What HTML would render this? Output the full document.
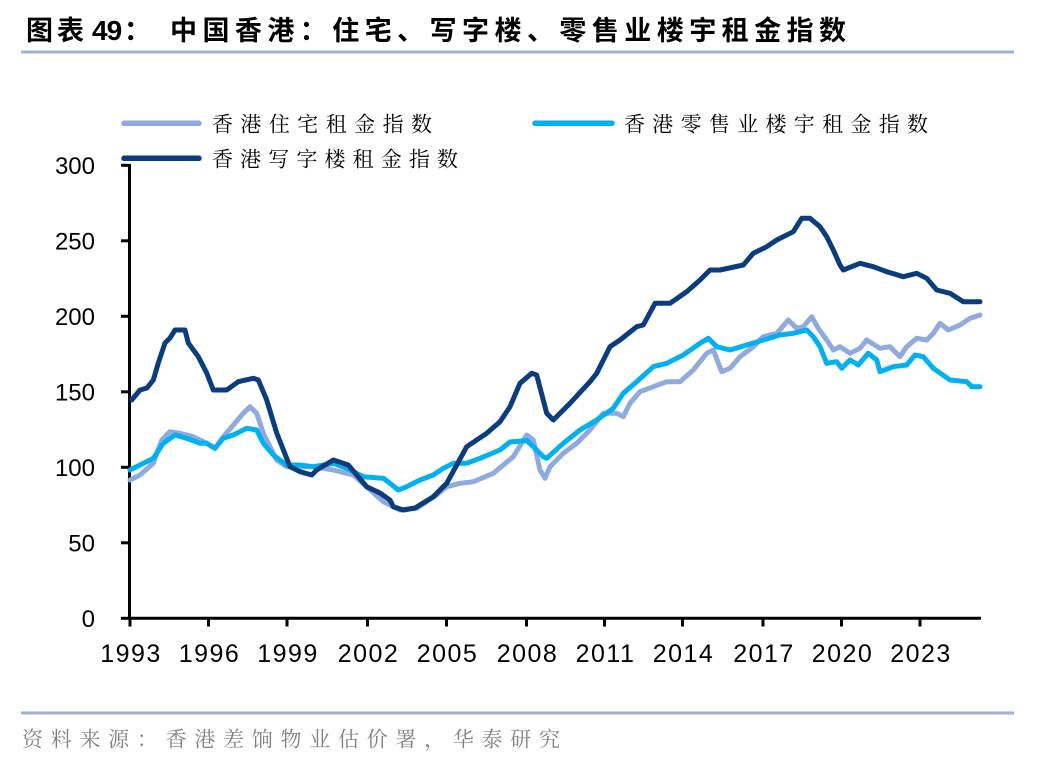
<!DOCTYPE html>
<html>
<head>
<meta charset="utf-8">
<style>
  html,body{margin:0;padding:0;background:#fff;}
  body{width:1048px;height:764px;overflow:hidden;}
  svg{display:block;}
</style>
</head>
<body>
<svg width="1048" height="764" viewBox="0 0 1048 764" xmlns="http://www.w3.org/2000/svg">
  <!-- Title -->
  <text x="26" y="40" font-family="'Noto Sans CJK SC', sans-serif" font-weight="700" font-size="27" fill="#000" letter-spacing="4">图表</text>
  <text x="92" y="40" font-family="'Liberation Sans', sans-serif" font-weight="700" font-size="28" fill="#000" letter-spacing="-1">49</text>
  <text x="124" y="40" font-family="'Noto Sans CJK SC', sans-serif" font-weight="700" font-size="27" fill="#000">：</text>
  <text x="170" y="40" font-family="'Liberation Sans','Noto Sans CJK SC', sans-serif" font-weight="700" font-size="27" fill="#000" textLength="676" lengthAdjust="spacing">中国香港：住宅、写字楼、零售业楼宇租金指数</text>
  <rect x="21" y="50.5" width="993" height="3" fill="#9fb3cb"/>

  <!-- Legend -->
  <line x1="124" y1="123.3" x2="199" y2="123.3" stroke="#8faadc" stroke-width="5.5" stroke-linecap="round"/>
  <text x="212" y="131.5" font-family="'Noto Serif CJK SC', serif" font-size="21" fill="#000" textLength="220" lengthAdjust="spacing">香港住宅租金指数</text>
  <line x1="535" y1="123.3" x2="612" y2="123.3" stroke="#00b0f0" stroke-width="5.5" stroke-linecap="round"/>
  <text x="624" y="131.5" font-family="'Noto Serif CJK SC', serif" font-size="21" fill="#000" textLength="304" lengthAdjust="spacing">香港零售业楼宇租金指数</text>
  <line x1="124" y1="158.3" x2="199" y2="158.3" stroke="#0b3c7e" stroke-width="5.5" stroke-linecap="round"/>
  <text x="212" y="166.5" font-family="'Noto Serif CJK SC', serif" font-size="21" fill="#000" textLength="246" lengthAdjust="spacing">香港写字楼租金指数</text>

  <!-- Axes -->
  <g stroke="#000" stroke-width="3" fill="none">
    <line x1="129.5" y1="164" x2="129.5" y2="619.8"/>
    <line x1="128" y1="618.3" x2="981" y2="618.3"/>
    <line x1="121" y1="165.3" x2="129.5" y2="165.3"/>
    <line x1="121" y1="240.8" x2="129.5" y2="240.8"/>
    <line x1="121" y1="316.3" x2="129.5" y2="316.3"/>
    <line x1="121" y1="391.8" x2="129.5" y2="391.8"/>
    <line x1="121" y1="467.3" x2="129.5" y2="467.3"/>
    <line x1="121" y1="542.8" x2="129.5" y2="542.8"/>
    <line x1="121" y1="618.3" x2="129.5" y2="618.3"/>
    <line x1="130" y1="618" x2="130" y2="626.5"/>
    <line x1="208.5" y1="618" x2="208.5" y2="626.5"/>
    <line x1="287" y1="618" x2="287" y2="626.5"/>
    <line x1="367.5" y1="618" x2="367.5" y2="626.5"/>
    <line x1="446.5" y1="618" x2="446.5" y2="626.5"/>
    <line x1="526.5" y1="618" x2="526.5" y2="626.5"/>
    <line x1="604.5" y1="618" x2="604.5" y2="626.5"/>
    <line x1="682.5" y1="618" x2="682.5" y2="626.5"/>
    <line x1="763" y1="618" x2="763" y2="626.5"/>
    <line x1="841.5" y1="618" x2="841.5" y2="626.5"/>
    <line x1="920" y1="618" x2="920" y2="626.5"/>
  </g>

  <!-- Y labels -->
  <g font-family="'Liberation Sans', sans-serif" font-size="24" fill="#000" text-anchor="end">
    <text x="95" y="173.8">300</text>
    <text x="95" y="249.3">250</text>
    <text x="95" y="324.8">200</text>
    <text x="95" y="400.3">150</text>
    <text x="95" y="475.8">100</text>
    <text x="95" y="551.3">50</text>
    <text x="95" y="626.8">0</text>
  </g>
  <!-- X labels -->
  <g font-family="'Liberation Sans', sans-serif" font-size="25" fill="#000" text-anchor="middle" letter-spacing="1.5">
    <text x="131" y="662">1993</text>
    <text x="209.5" y="662">1996</text>
    <text x="288" y="662">1999</text>
    <text x="368.5" y="662">2002</text>
    <text x="447.5" y="662">2005</text>
    <text x="527.5" y="662">2008</text>
    <text x="605.5" y="662">2011</text>
    <text x="683.5" y="662">2014</text>
    <text x="764" y="662">2017</text>
    <text x="842.5" y="662">2020</text>
    <text x="921" y="662">2023</text>
  </g>

  <!-- Series -->
  <g fill="none" stroke-width="5" stroke-linejoin="round" stroke-linecap="round">
    <polyline stroke="#8faadc" points="130,480 140,475 153.3,463.3 161.7,440 170,431.7 180,433.3 193.3,436.7 206.7,443.3 215,448.3 223.3,436.7 233.3,425 243.3,413.3 250,406.7 256.7,413.3 263.3,433.3 270,446.7 276.7,460 286.7,466.7 313.3,466.7 333.3,470 353.3,475 366.7,486.7 383.3,501.7 400,510 416.7,508.3 436.7,495 446.7,486.7 460,483.3 473.3,481.7 493.3,473.3 513.3,456.7 526.7,435 533.3,440 540,470 545,478.3 550,466.7 563.3,453.3 576.7,443.3 590,430 603.3,413.3 616.7,413.3 623.3,416.7 630,403.3 640,391.7 653.3,386.7 666.7,381.7 680,381.7 693.3,370 706.7,353.3 713.3,350 721.7,371.7 730,368.3 740,356.7 753.3,346.7 763.3,336.7 776.7,333.3 788.3,320 796.7,328.3 803.3,326.7 811.7,316.7 818.3,328.3 826.7,340 833.3,350 840,346.7 850,353.3 860,348.3 866.7,340 880,348.3 890,346.7 900,356.7 906.7,346.7 916.7,338.3 926.7,340 933.3,333.3 940,323.3 948.3,330 960,325 970,318.3 980,315"/>
    <polyline stroke="#00b0f0" points="130,470 140,465 153.3,458.3 163.3,443.3 175,435 186.7,438.3 200,443.3 206.7,443.3 215,448.3 223.3,438.3 233.3,435 246.7,428.3 256.7,430 263.3,443.3 273.3,455 286.7,465 300,465 313.3,466.7 333.3,463.3 346.7,468.3 363.3,476.7 383.3,478.3 390,483.3 398.3,490 406.7,486.7 420,480 433.3,475 443.3,468.3 453.3,463.3 466.7,463.3 480,458.3 500,450 510,442 526.7,440.5 533.3,446.7 543.3,456.7 546.7,458.3 563.3,443.3 580,430 596.7,420 613.3,408.3 623.3,393.3 636.7,381.7 653.3,366.7 666.7,363.3 683.3,355 700,343.3 708.3,338.3 716.7,346.7 730,350 746.7,345 763.3,340 780,335 793.3,333.3 806.7,330 813.3,336.7 820,346.7 826.7,363.3 836.7,361.7 841.7,368.3 850,360 858.3,365 868.3,353.3 876.7,360 880,371.7 893.3,366.7 906.7,365 915,355 923.3,356.7 933.3,368.3 950,380 966.7,381.7 971.7,386.7 980,386.7"/>
    <polyline stroke="#0b3c7e" points="131.7,400 140,390 147,388 153.3,380 158.3,363 165,343 170,338 175,330 185,330 188.3,343 198.3,356.7 206.7,373 213.3,390 226.7,390 238.3,381.7 253.3,378.3 258.3,380 266.7,400 276.7,433 290,466.7 300,471.7 311.7,475 316.7,470 333.3,460 348.3,465 366.7,486.7 380,493 390,500 393.3,506.7 403.3,510 415,508 433.3,496.7 446.7,483.3 466.7,446.7 486.7,433.3 500,421.7 510,406.7 520,383.3 531.7,373.3 536.7,375 546.7,413.3 553.3,420 570,403.3 590,381.7 596.7,373.3 610,346.7 620,340 636.7,326.7 643.3,325 655,303.3 670,303.3 686.7,291.7 700,280 710,270 720,270 743.3,265 753.3,253.3 766.7,246.7 776.7,240 793.3,231.7 801.7,218.3 810,218.3 820,226.7 826.7,236.7 833.3,250 840,265 843.3,270 860,263.3 873.3,266.7 886.7,271.7 903.3,276.7 916.7,273.3 926.7,278.3 936.7,290 950,293.3 963.3,301.7 980,301.7"/>
  </g>

  <!-- Footer -->
  <rect x="21" y="711.5" width="993" height="3" fill="#9fb3cb"/>
  <text x="22" y="746.5" font-family="'Noto Serif CJK SC', serif" font-size="21" fill="#808080" textLength="538" lengthAdjust="spacing">资料来源：香港差饷物业估价署，华泰研究</text>
</svg>
</body>
</html>
